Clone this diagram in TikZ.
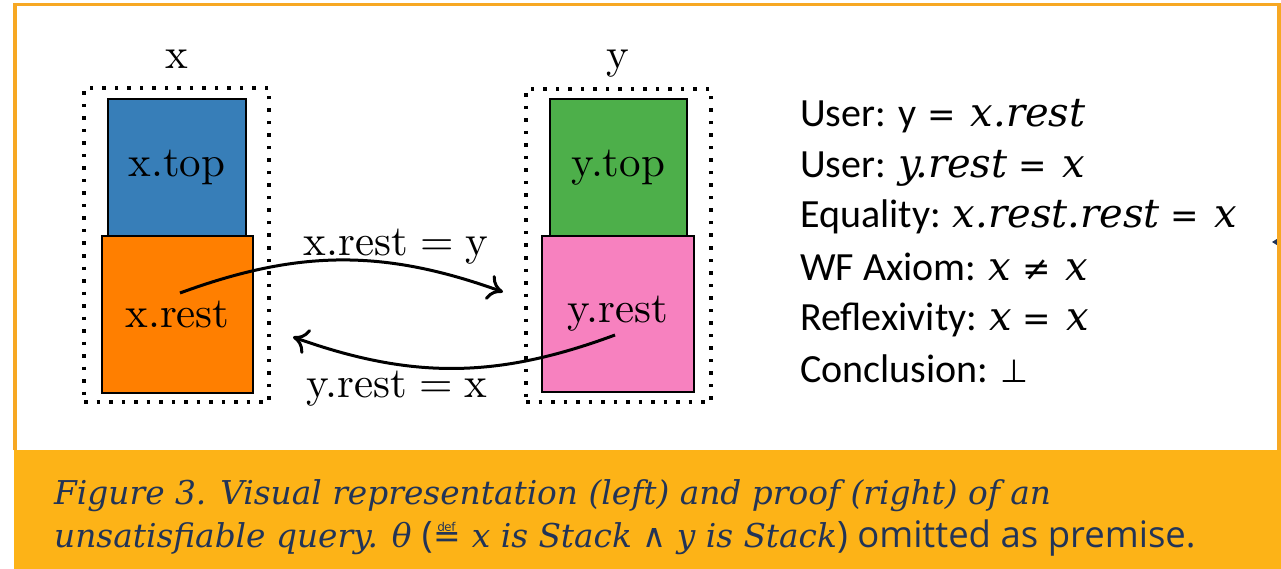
\documentclass[tikz,border=0pt]{standalone}
\usepackage{fontspec}
\usetikzlibrary{arrows.meta}
\newfontfamily\cmten{lmroman10-regular.otf}
\newfontfamily\uifont{Carlito}
\newfontfamily\mathserif{DejaVu Serif}
\newfontfamily\symfont{DejaVu Sans}
\newfontfamily\captsans{Open Sans}
\definecolor{setblue}{HTML}{377EB8}
\definecolor{setorange}{HTML}{FF7F00}
\definecolor{setgreen}{HTML}{4DAF4A}
\definecolor{setpink}{HTML}{F781BF}
\definecolor{frameorange}{HTML}{F7A823}
\definecolor{bandorange}{HTML}{FDB317}
\definecolor{captnavy}{HTML}{223457}
% italic variables in the proof and caption
\newcommand\mv[1]{{\mathserif\itshape #1}}
% relation symbols with surrounding space
\newcommand\rel[1]{\hspace{11pt}{\symfont\fontsize{34}{34}\selectfont #1}\hspace{15pt}}
\begin{document}
\begin{tikzpicture}[x=1pt,y=-1pt,
  cell/.style={draw=black, line width=2pt, inner sep=0pt, outer sep=0pt,
    font=\cmten\fontsize{43}{50}\selectfont},
  dotbox/.style={draw=black, line width=3.5pt, dash pattern=on 3.5pt off 9pt,
    inner sep=0pt, outer sep=0pt},
  varlabel/.style={anchor=base, font=\cmten\fontsize{43}{50}\selectfont},
  ptr/.style={line width=3pt,
    -{Computer Modern Rightarrow[length=15pt,width=26pt]}},
  prooftext/.style={anchor=base west, inner sep=0pt,
    font=\uifont\fontsize{40}{48}\selectfont},
  capttext/.style={anchor=base west, inner sep=0pt, text=captnavy,
    font=\mathserif\itshape\fontsize{32.8}{38}\selectfont}]
\useasboundingbox (0,0) rectangle (1281,569);

% caption band and frame
\fill[bandorange] (14,450) rectangle (1281,569);
\fill[captnavy] (1272,242) -- (1280,237) -- (1280,247) -- cycle;
\draw[frameorange, line width=3.5pt] (15,450) -- (15,4.5) -- (1279,4.5) -- (1279,450);

% stack x
\node[dotbox, minimum width=185pt, minimum height=314pt] (xbox) at (176.5,245) {};
\node[cell, fill=setblue, minimum width=138pt, minimum height=137pt] (xtop) at (177,167.5) {x.top};
\node[cell, fill=setorange, minimum width=151pt, minimum height=157pt] (xrest) at (177.5,314.5) {x.rest};
\node[varlabel] (xlab) at (177,69) {x};

% stack y
\node[dotbox, minimum width=185pt, minimum height=313pt] (ybox) at (618.5,245.5) {};
\node[cell, fill=setgreen, minimum width=137pt, minimum height=137pt] (ytop) at (618.5,167.5) {y.top};
\node[cell, fill=setpink, minimum width=152pt, minimum height=156pt] (yrest) at (618,314) {y.rest};
\node[varlabel] (ylab) at (618,69) {y};

% pointers between the stacks
\coordinate (xfrom) at (180,293);
\coordinate (yto) at (503,292);
\coordinate (yfrom) at (615,335);
\coordinate (xto) at (293,337);
\draw[ptr] (xfrom) to[bend left=20] (yto);
\draw[ptr] (yfrom) to[bend left=20] (xto);
\node[varlabel] (xyl) at (396,255) {x.rest\hspace{0.28em}=\hspace{0.28em}y};
\node[varlabel] (yxl) at (397,397) {y.rest\hspace{0.28em}=\hspace{0.28em}x};

% proof steps
\node[prooftext] (p1) at (800,127) {User: y\rel{=}\mv{x.rest}};
\node[prooftext] (p2) at (800,178) {User: \mv{y.rest}\rel{=}\mv{x}};
\node[prooftext] (p3) at (800,228) {Equality: \mv{x.rest.rest}\rel{=}\mv{x}};
\node[prooftext] (p4) at (800,280) {WF Axiom: \mv{x}\rel{≠}\mv{x}};
\node[prooftext] (p5) at (800,330) {Reflexivity: \mv{x}\rel{=}\mv{x}};
\node[prooftext] (p6) at (800,382) {Conclusion: {\symfont\fontsize{32}{32}\selectfont ⊥}};

% caption
\node[capttext] (c1) at (54,504) {Figure 3. Visual representation (left) and proof (right) of an};
\node[capttext] (c2) at (54,547) {unsatisfiable query. θ {\captsans\upshape\fontsize{36.5}{40}\selectfont(}\hspace{1pt}{\symfont\upshape\fontsize{33}{36}\selectfont ≝}\ x is Stack {\symfont\upshape ∧} y is Stack{\captsans\upshape\fontsize{36.5}{40}\selectfont) omitted as premise.}};
\end{tikzpicture}
\end{document}
